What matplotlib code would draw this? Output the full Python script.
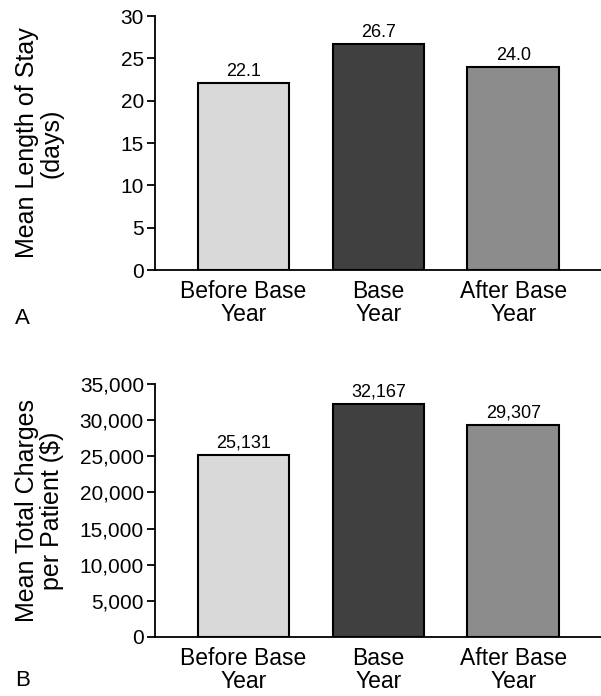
import numpy as np
import matplotlib.pyplot as plt

plt.rcParams['font.family'] = ['Liberation Sans', 'DejaVu Sans']

categories = ['Before Base\nYear', 'Base\nYear', 'After Base\nYear']
stay_days = [22.1, 26.7, 24.0]
stay_labels = ['22.1', '26.7', '24.0']
charges = [25131, 32167, 29307]
charge_labels = ['25,131', '32,167', '29,307']
colors = ['#d9d9d9', '#404040', '#8c8c8c']

fig = plt.figure(figsize=(6.01, 6.96), dpi=100)
ax1 = fig.add_axes([0.258, 0.612, 0.742, 0.365])
ax2 = fig.add_axes([0.258, 0.0848, 0.742, 0.3635])

x = np.arange(len(categories))


def draw(ax, vals, labels, ymax, step, ylabel, fmt, off):
    ax.bar(x, vals, width=0.68, color=colors, edgecolor='black', linewidth=1.5)
    for xi, v, t in zip(x, vals, labels):
        ax.text(xi, v + off, t, ha='center', va='bottom', fontsize=13)
    ax.set_xlim(-0.656, 2.65)
    ax.set_ylim(0, ymax)
    ax.set_yticks(np.arange(0, ymax + 1, step))
    ax.set_yticklabels([fmt(v) for v in np.arange(0, ymax + 1, step)])
    ax.set_xticks(x)
    ax.set_xticklabels(categories, linespacing=1.0)
    ax.tick_params(axis='x', length=0, labelsize=16.5, pad=7)
    ax.tick_params(axis='y', length=6, width=1.3, labelsize=15, pad=2)
    for s in ['top', 'right']:
        ax.spines[s].set_visible(False)
    for s in ['left', 'bottom']:
        ax.spines[s].set_linewidth(1.3)
    ax.set_ylabel(ylabel, fontsize=18, linespacing=1.05)
    ax.yaxis.set_label_coords(-0.205, 0.5)


draw(ax1, stay_days, stay_labels, 30, 5, 'Mean Length of Stay\n(days)',
     lambda v: '%d' % v, 0.35)
draw(ax2, charges, charge_labels, 35000, 5000, 'Mean Total Charges\nper Patient ($)',
     lambda v: '{:,}'.format(int(v)), 500)

fig.text(15 / 601, 1 - 318 / 696, 'A', fontsize=16, va='center', ha='left')
fig.text(15 / 601, 1 - 680 / 696, 'B', fontsize=16, va='center', ha='left')

plt.savefig('out.png', dpi=100)
